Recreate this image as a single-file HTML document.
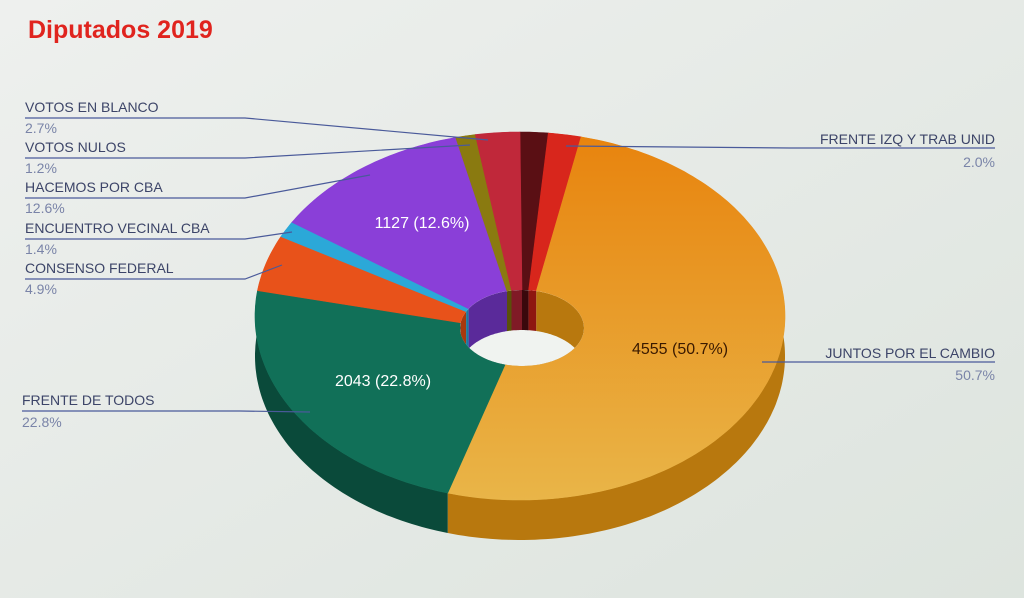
<!DOCTYPE html>
<html><head><meta charset="utf-8">
<style>
html,body{margin:0;padding:0;width:1024px;height:598px;overflow:hidden;background:#e6ebe7;}
svg{display:block}
</style></head>
<body>
<svg id="s" width="1024" height="598" xmlns="http://www.w3.org/2000/svg" font-family="Liberation Sans, sans-serif">
<defs>
<linearGradient id="bg" x1="0" y1="0" x2="1" y2="1">
<stop offset="0" stop-color="#eef0ee"/><stop offset="1" stop-color="#dde4de"/>
</linearGradient>
<linearGradient id="gold" x1="0" y1="0" x2="0" y2="1">
<stop offset="0" stop-color="#e8840e"/><stop offset="1" stop-color="#e9b548"/>
</linearGradient>
<clipPath id="hole"><ellipse cx="522" cy="328" rx="62" ry="38"/></clipPath>
</defs>
<rect width="1024" height="598" fill="url(#bg)"/>
<g id="pie"></g>
<text x="28" y="38" font-size="25" font-weight="bold" fill="#e0241e">Diputados 2019</text>
<g font-size="14" fill="#3c4468">
<text x="25" y="112">VOTOS EN BLANCO</text><text x="25" y="133" fill="#7a84a8">2.7%</text>
<text x="25" y="152">VOTOS NULOS</text><text x="25" y="173" fill="#7a84a8">1.2%</text>
<text x="25" y="192">HACEMOS POR CBA</text><text x="25" y="213" fill="#7a84a8">12.6%</text>
<text x="25" y="233">ENCUENTRO VECINAL CBA</text><text x="25" y="254" fill="#7a84a8">1.4%</text>
<text x="25" y="273">CONSENSO FEDERAL</text><text x="25" y="294" fill="#7a84a8">4.9%</text>
<text x="22" y="405">FRENTE DE TODOS</text><text x="22" y="427" fill="#7a84a8">22.8%</text>
<text x="995" y="144" text-anchor="end">FRENTE IZQ Y TRAB UNID</text><text x="995" y="167" text-anchor="end" fill="#7a84a8">2.0%</text>
<text x="995" y="358" text-anchor="end">JUNTOS POR EL CAMBIO</text><text x="995" y="380" text-anchor="end" fill="#7a84a8">50.7%</text>
</g>
<g stroke="#4a5a9a" stroke-width="1.2" fill="none">
<polyline points="25,118 245,118 488,140"/>
<polyline points="25,158 245,158 470,145"/>
<polyline points="25,198 245,198 370,175"/>
<polyline points="25,239 245,239 292,232"/>
<polyline points="25,279 245,279 282,265"/>
<polyline points="22,411 240,411 310,412"/>
<polyline points="995,148 790,148 566,146"/>
<polyline points="995,362 800,362 762,362"/>
</g>
<g font-size="16">
<text x="422" y="228" text-anchor="middle" fill="#fff">1127 (12.6%)</text>
<text x="383" y="386" text-anchor="middle" fill="#fff">2043 (22.8%)</text>
<text x="680" y="354" text-anchor="middle" fill="#3a1a00">4555 (50.7%)</text>
</g>
</svg>
<script>
var cx=520,cy=316,rx=265,ry=184,hx=522,hy=328,hrx=62,hry=38,D=40;
var sl=[[0.017,"#5a0f14","#3a080c"],[0.020,"#d8261c","#8e1610"],[0.507,"url(#gold)","#b8780e"],[0.228,"#117058","#0a4a3a"],[0.049,"#e8521a","#a8380e"],[0.014,"#2ba8d8","#1a7aa0"],[0.126,"#8a3fd8","#5a2a9a"],[0.012,"#8a7a10","#5a500a"],[0.027,"#c0283a","#801a26"]];
function P(f,x0,y0,a,b,dy){var t=f*2*Math.PI;return [x0+a*Math.sin(t),y0-b*Math.cos(t)+(dy||0)];}
function arc(f1,f2,x0,y0,a,b,dy){var p=[],n=Math.max(2,Math.ceil((f2-f1)*300));for(var i=0;i<=n;i++)p.push(P(f1+(f2-f1)*i/n,x0,y0,a,b,dy));return p;}
function pts(p){return p.map(function(q){return q[0].toFixed(1)+","+q[1].toFixed(1)}).join(" ");}
var g=document.getElementById("pie"),h="",c=0,walls="",tops="",inner="";
sl.forEach(function(s){var f1=c,f2=c+s[0];c=f2;
 var a=arc(f1,f2,cx,cy,rx,ry,0),b=arc(f1,f2,cx,cy,rx,ry,D).reverse();
 walls+='<polygon points="'+pts(a.concat(b))+'" fill="'+s[2]+'"/>';
 var ia=arc(f1,f2,hx,hy,hrx,hry,0).reverse();
 tops+='<polygon points="'+pts(a.concat(ia))+'" fill="'+s[1]+'" stroke="'+s[1]+'" stroke-width="0.6"/>';
 var i1=arc(f1,f2,hx,hy,hrx,hry,0),i2=arc(f1,f2,hx,hy,hrx,hry,D).reverse();
 inner+='<polygon points="'+pts(i1.concat(i2))+'" fill="'+s[2]+'"/>';
});
h=walls+tops+'<ellipse cx="'+hx+'" cy="'+hy+'" rx="'+hrx+'" ry="'+hry+'" fill="#f0f3f0"/><g clip-path="url(#hole)">'+inner+'</g>';
g.innerHTML=h;
</script>
</body></html>
